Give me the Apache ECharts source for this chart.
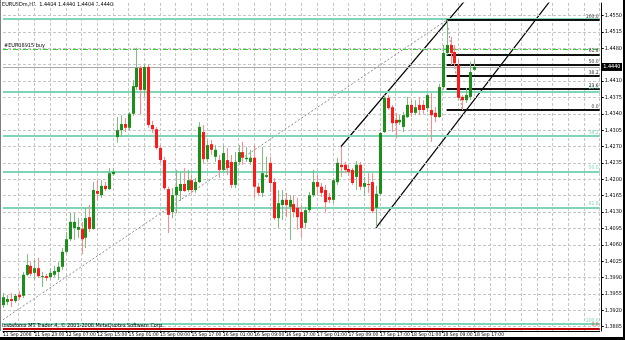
<!DOCTYPE html>
<html><head><meta charset="utf-8">
<script src="https://cdn.jsdelivr.net/npm/echarts@6/dist/echarts.min.js"></script>
<style>html,body{margin:0;padding:0;background:#fff}#c{width:625px;height:340px}</style>
</head><body><div id="c"></div><script>
// ---- data ----
const sessions = [['11 Sep',15,23],['12 Sep',0,19],['14 Sep',22,23],['15 Sep',0,23],['16 Sep',0,23],['17 Sep',0,23],['18 Sep',0,23],['19 Sep',0,23],['22 Sep',0,1]];
const opens = [1.3931,1.3938,1.3944,1.3940,1.3953,1.3951,1.3996,1.4015,1.4000,1.4010,
1.3991,1.3993,1.3991,1.3996,1.4002,1.4013,1.4045,1.4072,1.4096,1.4092,
1.4094,1.4075,1.4119,1.4094,1.4175,1.4166,1.4186,1.4179,1.4211,1.4290,
1.4305,1.4318,1.4310,1.4340,1.4397,1.4438,1.4391,1.4440,1.4316,1.4307,
1.4267,1.4241,1.4179,1.4130,1.4166,1.4175,1.4190,1.4177,1.4198,1.4177,
1.4194,1.4301,1.4243,1.4275,1.4248,1.4241,1.4220,1.4241,1.4237,1.4188,
1.4237,1.4258,1.4243,1.4237,1.4246,1.4184,1.4171,1.4205,1.4235,1.4194,
1.4117,1.4145,1.4156,1.4141,1.4147,1.4139,1.4130,1.4107,1.4134,1.4166,
1.4194,1.4184,1.4177,1.4162,1.4156,1.4194,1.4231,1.4231,1.4222,1.4220,
1.4205,1.4231,1.4184,1.4190,1.4194,1.4139,1.4169,1.4301,1.4374,1.4354,
1.4327,1.4322,1.4312,1.4333,1.4359,1.4342,1.4359,1.4359,1.4352,1.4348,
1.4342,1.4333,1.4397,1.4470,1.4487,1.4472,1.4444,1.4376,1.4369,1.4376,
1.4434];
const closes = [1.3948,1.3944,1.3940,1.3951,1.3948,1.3996,1.4017,1.3998,1.4010,1.3993,
1.3993,1.3989,1.4000,1.4004,1.4013,1.4045,1.4072,1.4109,1.4109,1.4098,
1.4072,1.4117,1.4094,1.4177,1.4169,1.4186,1.4179,1.4213,1.4216,1.4305,
1.4318,1.4310,1.4340,1.4399,1.4438,1.4391,1.4440,1.4316,1.4307,1.4267,
1.4241,1.4181,1.4124,1.4166,1.4184,1.4190,1.4175,1.4198,1.4177,1.4194,
1.4312,1.4243,1.4273,1.4263,1.4263,1.4220,1.4256,1.4224,1.4188,1.4237,
1.4258,1.4246,1.4246,1.4246,1.4184,1.4171,1.4213,1.4209,1.4192,1.4117,
1.4149,1.4156,1.4145,1.4156,1.4130,1.4119,1.4096,1.4134,1.4166,1.4194,
1.4184,1.4171,1.4151,1.4156,1.4198,1.4235,1.4226,1.4220,1.4216,1.4192,
1.4231,1.4184,1.4192,1.4188,1.4132,1.4169,1.4299,1.4374,1.4352,1.4320,
1.4320,1.4327,1.4337,1.4359,1.4342,1.4354,1.4348,1.4348,1.4380,1.4337,
1.4333,1.4397,1.4470,1.4487,1.4470,1.4448,1.4374,1.4369,1.4380,1.4429,
1.4440];
const lows = [1.3925,1.3931,1.3927,1.3936,1.3942,1.3946,1.3993,1.3993,1.3985,1.3989,
1.3970,1.3983,1.3985,1.3991,1.3985,1.4006,1.4040,1.4068,1.4070,1.4075,
1.4040,1.4053,1.4087,1.4092,1.4154,1.4160,1.4175,1.4177,1.4207,1.4278,
1.4290,1.4301,1.4305,1.4335,1.4391,1.4337,1.4376,1.4310,1.4299,1.4263,
1.4235,1.4177,1.4085,1.4117,1.4128,1.4154,1.4173,1.4173,1.4171,1.4171,
1.4192,1.4235,1.4237,1.4252,1.4237,1.4203,1.4216,1.4209,1.4181,1.4181,
1.4231,1.4231,1.4237,1.4231,1.4160,1.4164,1.4162,1.4203,1.4173,1.4113,
1.4096,1.4113,1.4119,1.4070,1.4119,1.4092,1.4075,1.4096,1.4130,1.4162,
1.4166,1.4162,1.4130,1.4149,1.4149,1.4188,1.4205,1.4213,1.4207,1.4188,
1.4177,1.4177,1.4164,1.4171,1.4128,1.4098,1.4164,1.4299,1.4348,1.4301,
1.4288,1.4316,1.4301,1.4331,1.4333,1.4337,1.4337,1.4340,1.4344,1.4280,
1.4322,1.4331,1.4391,1.4466,1.4444,1.4440,1.4369,1.4348,1.4363,1.4369,
1.4432];
const highs = [1.3957,1.3953,1.3957,1.3955,1.3961,1.4002,1.4040,1.4023,1.4028,1.4032,
1.4002,1.3998,1.4010,1.4015,1.4023,1.4053,1.4087,1.4128,1.4128,1.4117,
1.4109,1.4139,1.4145,1.4194,1.4198,1.4198,1.4194,1.4224,1.4224,1.4333,
1.4337,1.4331,1.4344,1.4412,1.4481,1.4442,1.4446,1.4446,1.4325,1.4312,
1.4273,1.4248,1.4184,1.4181,1.4220,1.4216,1.4224,1.4220,1.4209,1.4203,
1.4322,1.4316,1.4284,1.4284,1.4273,1.4252,1.4273,1.4267,1.4252,1.4258,
1.4273,1.4280,1.4269,1.4263,1.4273,1.4192,1.4269,1.4248,1.4248,1.4203,
1.4177,1.4177,1.4171,1.4166,1.4166,1.4160,1.4145,1.4141,1.4173,1.4220,
1.4209,1.4192,1.4188,1.4171,1.4203,1.4246,1.4269,1.4237,1.4231,1.4224,
1.4239,1.4237,1.4205,1.4213,1.4213,1.4186,1.4301,1.4380,1.4380,1.4359,
1.4342,1.4337,1.4344,1.4376,1.4369,1.4369,1.4374,1.4369,1.4384,1.4384,
1.4354,1.4404,1.4487,1.4540,1.4504,1.4487,1.4455,1.4380,1.4395,1.4451,
1.4455];
const yTicks = [1.3885,1.3920,1.3955,1.3990,1.4025,1.4060,1.4095,1.4130,1.4165,1.4200,
1.4235,1.4270,1.4305,1.4340,1.4375,1.4410,1.4445,1.4480,1.4515,1.4550];
const greenFibLevels = [1.4542,1.4388,1.4293,1.4217,1.4140,1.3891];
const greenFibNames  = ['','23.6','38.2','50.0','61.8','100.0'];
const blackFibLevels = [1.4540,1.4467,1.4444,1.4421,1.4393,1.4348];
const blackFibNames  = ['100.0','61.8','50.0','38.2','23.6','0.0'];
const blackFibStart = 113;
const greenFibTrend = [[0,1.3900],[113,1.4540]];
const blackFibTrend = [[113,1.4540],[117,1.4348]];
const channelUpper = [[86,1.4269],[118,1.4585]];
const channelLower = [[95,1.4096],[140,1.4588]];
const buyLevel = 1.4478;
const priceLevel = 1.4440;
const redLevel = 1.3881;
const titleText = 'EURUSDm,H1  1.4404 1.4440 1.4404 1.4440';
const buyText = '#EUR08915 buy';
const copyText = 'Instaforex MT Trader 4, \u00a9 2001-2008 MetaQuotes Software Corp.';

// ---- build ----
const categories = [];
sessions.forEach(([d,a,b])=>{ for(let h=a;h<=b;h++){ categories.push(d+' '+String(h).padStart(2,'0')+':00'); } });
const lastBar = opens.length-1;
const candleData = opens.map((o,i)=>[i,o,closes[i],lows[i],highs[i]]);
const FONT = '"Liberation Sans Narrow","DejaVu Sans Condensed","Liberation Sans",sans-serif';
const gridLine = {color:'#c6c6c6', type:[3,2], width:1};
const lastIdx = categories.length-1;
const P = 6;

const chart = echarts.init(document.getElementById('c'), null, {renderer:'canvas'});
const option = {
  animation:false,
  backgroundColor:'#ffffff',
  grid:{left:3,right:23,top:3,bottom:9},
  xAxis:{type:'category',data:categories,boundaryGap:false,
    axisLine:{show:true,lineStyle:{color:'#000',width:1}},
    axisTick:{show:true,length:2,interval:(i)=>i%8===0&&i<=lastBar,lineStyle:{color:'#000'}},
    axisLabel:{interval:(i)=>i%8===0&&i<=lastBar,formatter:(v,i)=>i===0?'11 Sep 2008':v,hideOverlap:false,
      fontSize:5,fontFamily:FONT,color:'#000',align:'left',margin:1},
    splitLine:{show:true,interval:(i)=>i%4===0&&i>0,lineStyle:gridLine}},
  yAxis:{type:'value',position:'right',offset:2,min:1.38758,max:1.45767,
    axisLine:{show:true,lineStyle:{color:'#000'}},
    axisTick:{show:true,length:2,customValues:yTicks,lineStyle:{color:'#000'}},
    axisLabel:{customValues:yTicks.filter(v=>v!==1.4445),formatter:(v)=>Number(v).toFixed(4),
      fontSize:5.5,fontFamily:FONT,color:'#000',margin:3},
    splitLine:{show:false}},
  graphic:[
    {type:'text',left:2,top:2,style:{text:titleText,fontSize:5.5,fontFamily:FONT,fill:'#000'}},
    {type:'text',left:2,top:323,z:100,style:{text:copyText,fontSize:5.5,fontFamily:FONT,fill:'#000'}},
    {type:'rect',shape:{x:0,y:337,width:625,height:3},style:{fill:'#000'}},
    {type:'rect',shape:{x:623,y:0,width:2,height:340},style:{fill:'#000'}},
    {type:'rect',shape:{x:0,y:0,width:1,height:331},style:{fill:'#808080'}}
  ],
  series:[
    {type:'line',data:[],silent:true,z:1,
      markLine:{silent:true,precision:P,symbol:['none','none'],animation:false,label:{show:false},lineStyle:gridLine,
        data:yTicks.map(v=>({yAxis:v}))}},
    {type:'line',data:[],silent:true,z:2,
      markLine:{silent:true,precision:P,symbol:['none','none'],animation:false,
        lineStyle:{color:'#7fd6b6',width:2,type:'solid'},
        label:{position:'insideEndTop',distance:1,fontSize:5,fontFamily:FONT,color:'#7fd6b6'},
        data:greenFibLevels.map((v,k)=>({yAxis:v,label:{show:!!greenFibNames[k],formatter:greenFibNames[k]}}))}},
    {type:'line',data:[],silent:true,z:2,
      markLine:{silent:true,precision:P,symbol:['none','none'],animation:false,
        lineStyle:{color:'#c00000',width:2,type:'solid'},
        label:{position:'insideEndTop',distance:1,fontSize:5,fontFamily:FONT,color:'#e04040',formatter:'0.0'},
        data:[{yAxis:redLevel}]}},
    {type:'line',data:[],silent:true,z:3,
      markLine:{silent:true,precision:P,symbol:['none','none'],animation:false,
        lineStyle:{color:'#33cc33',width:1.2,type:[5,2,1,2]},
        label:{position:'insideStartTop',distance:1,fontSize:5.5,fontFamily:FONT,color:'#000',formatter:buyText},
        data:[{yAxis:buyLevel}]}},
    {type:'line',data:[],silent:true,z:3,
      markLine:{silent:true,precision:P,symbol:['none','none'],animation:false,
        lineStyle:{color:'#a8a8a8',width:1,type:'solid'},
        label:{position:'end',distance:2,fontSize:5.5,fontFamily:FONT,color:'#fff',backgroundColor:'#000',padding:[1,1.5],formatter:priceLevel.toFixed(4)},
        data:[{yAxis:priceLevel}]}},
    {type:'line',data:[],silent:true,z:4,
      markLine:{silent:true,precision:P,symbol:['none','none'],animation:false,
        lineStyle:{color:'#111',width:2,type:'solid'},
        label:{position:'insideEndTop',distance:1,fontSize:5,fontFamily:FONT,color:'#333'},
        data:blackFibLevels.map((v,k)=>[{coord:[blackFibStart,v],label:{formatter:blackFibNames[k]}},{coord:[lastIdx,v]}])}},
    {type:'line',data:greenFibTrend,symbol:'none',silent:true,z:4,lineStyle:{color:'#8a8a8a',width:1,type:[2,2]}},
    {type:'line',data:blackFibTrend,symbol:'none',silent:true,z:4,lineStyle:{color:'#8a8a8a',width:1,type:[2,2]}},
    {type:'line',data:channelUpper,symbol:'none',silent:true,z:4,lineStyle:{color:'#000',width:1.2}},
    {type:'line',data:channelLower,symbol:'none',silent:true,z:4,lineStyle:{color:'#000',width:1.2}},
    {type:'custom',data:candleData,z:5,encode:{x:0,y:[1,2,3,4]},
      renderItem:function(params,api){
        const i=api.value(0),o=api.value(1),c=api.value(2),l=api.value(3),h=api.value(4);
        const pO=api.coord([i,o]),pC=api.coord([i,c]),pL=api.coord([i,l]),pH=api.coord([i,h]);
        const cx=Math.round(pO[0]);
        const up=c>=o;
        const body=up?'#1a8f1a':'#ff1a1a';
        const wick=up?'#7cbf7c':'#ff8a8a';
        const top=Math.min(pO[1],pC[1]);
        const hgt=Math.max(1,Math.abs(pO[1]-pC[1]));
        return {type:'group',children:[
          {type:'line',shape:{x1:cx+0.5,y1:pH[1],x2:cx+0.5,y2:pL[1]},style:{stroke:wick,lineWidth:1}},
          {type:'rect',shape:{x:cx-1,y:top,width:3,height:hgt},style:{fill:body}}
        ]};
      }}
  ]
};
chart.setOption(option);
</script></body></html>
